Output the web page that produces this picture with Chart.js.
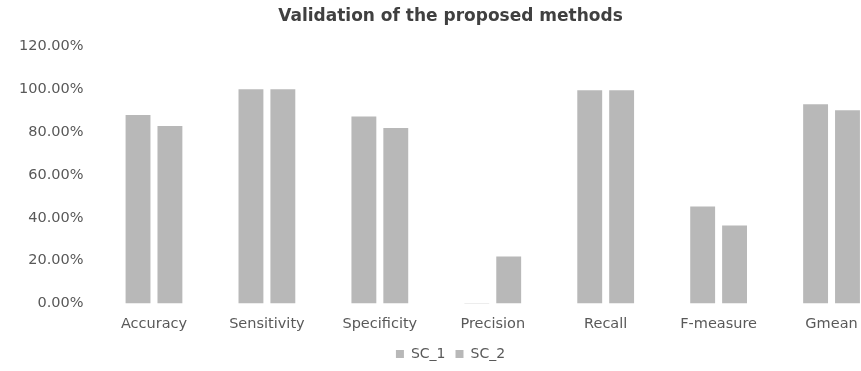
<!DOCTYPE html>
<html>
<head>
<meta charset="utf-8">
<script src="https://cdn.jsdelivr.net/npm/chart.js@4"></script>
<style>
  body { margin: 0; background: #fff; overflow: hidden; }
  #wrap { width: 916px; height: 371px; }
</style>
</head>
<body>
<div id="wrap"><canvas id="validChart" width="916" height="371"></canvas></div>
<script>
// values (fractions, shown as %)
const labels = ['Accuracy', 'Sensitivity', 'Specificity', 'Precision', 'Recall', 'F-measure', 'Gmean'];
const sc1 = [0.880, 1.000, 0.873, 0.003, 0.995, 0.453, 0.930];
const sc2 = [0.829, 1.000, 0.819, 0.220, 0.995, 0.364, 0.902];
const yTicks = [0, 0.2, 0.4, 0.6, 0.8, 1.0, 1.2];

const barGray = '#b8b8b8';
const textGray = '#595959';
const fontFam = '"DejaVu Sans", sans-serif';

const dataValid = {
  labels: labels,
  datasets: [{
    label: 'SC_1',
    data: sc1,
    backgroundColor: barGray,
    categoryPercentage: 0.565,
    barPercentage: 0.78
  }, {
    label: 'SC_2',
    data: sc2,
    backgroundColor: barGray,
    categoryPercentage: 0.565,
    barPercentage: 0.78
  }]
};

const configValid = {
  type: 'bar',
  data: dataValid,
  options: {
    responsive: false,
    animation: false,
    layout: { padding: { left: 13, right: 28, bottom: 0 } },
    plugins: {
      title: {
        display: true,
        text: 'Validation of the proposed methods',
        color: '#404040',
        font: { family: fontFam, size: 17, weight: 'bold' },
        padding: { top: 6, bottom: 20 }
      },
      legend: {
        position: 'bottom',
        labels: {
          color: textGray,
          boxWidth: 8,
          boxHeight: 8,
          font: { family: fontFam, size: 14 },
          padding: 10
        }
      },
      tooltip: { enabled: false }
    },
    scales: {
      x: {
        grid: { display: false },
        border: { display: false },
        ticks: { color: textGray, font: { family: fontFam, size: 14.5 }, padding: 4, maxRotation: 0 }
      },
      y: {
        min: 0,
        max: 1.2,
        afterBuildTicks: axis => { axis.ticks = yTicks.map(v => ({ value: v })); },
        grid: { display: false },
        border: { display: false },
        ticks: {
          color: textGray,
          font: { family: fontFam, size: 14.5 },
          padding: 6,
          callback: v => (v * 100).toFixed(2) + '%'
        }
      }
    }
  }
};

var validChart = new Chart(document.getElementById('validChart'), configValid);
</script>
</body>
</html>
